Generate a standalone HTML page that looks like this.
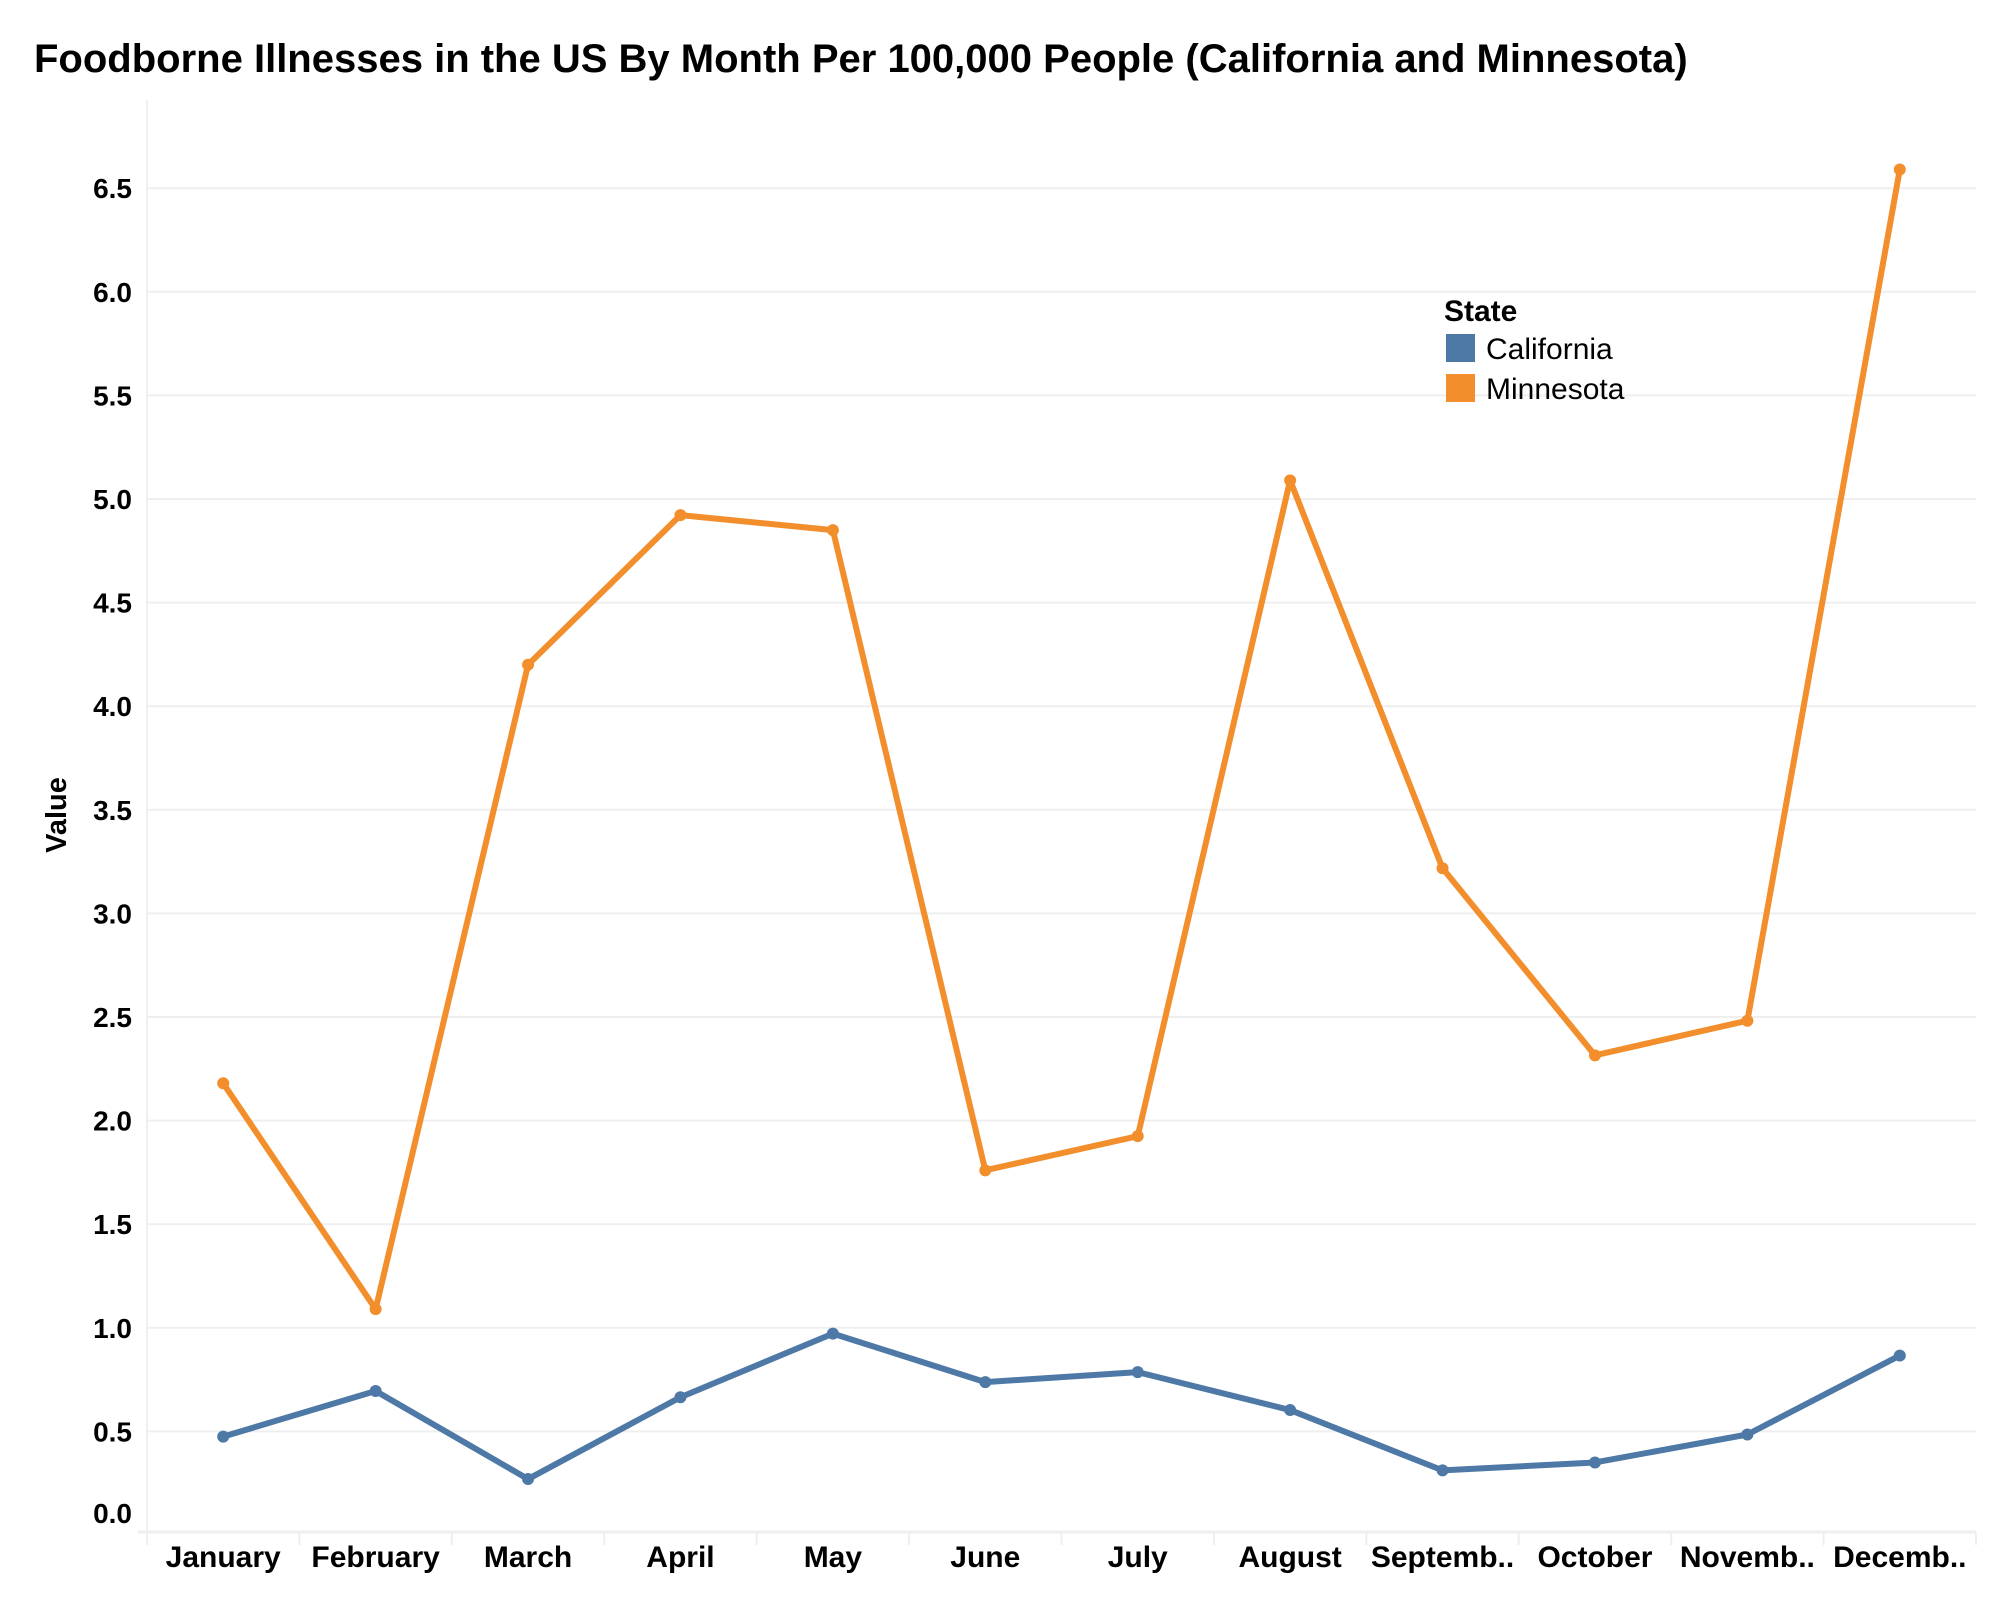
<!DOCTYPE html>
<html><head><meta charset="utf-8"><style>
html,body{margin:0;padding:0;background:#fff;}
svg{display:block;font-family:"Liberation Sans",Arial,sans-serif;}
</style></head><body>
<svg id="chart" width="2000" height="1600" viewBox="0 0 2000 1600">
<text x="34" y="72" font-size="40" font-weight="bold" fill="#000">Foodborne Illnesses in the US By Month Per 100,000 People (California and Minnesota)</text>
<g id="grid"></g>
<g id="axes"></g>
<g id="series"></g>
<text transform="translate(66,815) rotate(-90)" text-anchor="middle" font-size="29" font-weight="bold" fill="#000">Value</text>
<g>
<text x="1444" y="321" font-size="30" font-weight="bold" fill="#000">State</text>
<g><rect x="1446" y="334" width="29" height="28" fill="#4e79a7"/><text x="1486" y="359" font-size="30" fill="#000">California</text></g>
<g><rect x="1446" y="374" width="29" height="28" fill="#f28e2b"/><text x="1486" y="399" font-size="30" fill="#000">Minnesota</text></g>
</g>
</svg>
<script>
const months = ["January","February","March","April","May","June","July","August","Septemb..","October","Novemb..","Decemb.."];
const california = [0.475,0.695,0.27,0.665,0.972,0.738,0.786,0.603,0.312,0.35,0.485,0.866];
const minnesota = [2.18,1.09,4.2,4.922,4.85,1.76,1.925,5.09,3.218,2.315,2.482,6.59];
const yTicks = [0,0.5,1,1.5,2,2.5,3,3.5,4,4.5,5,5.5,6,6.5];
const yTickLabels = ["0.0","0.5","1.0","1.5","2.0","2.5","3.0","3.5","4.0","4.5","5.0","5.5","6.0","6.5"];

const NS = "http://www.w3.org/2000/svg";
const paneL = 147, paneR = 1976, colW = (paneR - paneL) / 12;
function x(i){ return paneL + colW * (i + 0.5); }
function y(v){ return 1535 - v * 207.2; }
function mk(tag, attrs, parent){ const e = document.createElementNS(NS, tag); for (const k in attrs) e.setAttribute(k, attrs[k]); parent.appendChild(e); return e; }

const grid = document.getElementById('grid');
const axes = document.getElementById('axes');
mk('line',{x1:paneL,y1:100,x2:paneL,y2:1531,stroke:'#f0f0f0','stroke-width':2},grid);
yTicks.forEach((t,i)=>{
  if (t > 0) {
    const g = mk('line',{x1:paneL,y1:y(t),x2:paneR,y2:y(t),stroke:'#efefef','stroke-width':2},grid);
    
    
  }
  const ty = t === 0 ? 1523 : y(t) + 10;
  const lb = mk('text',{x:132,y:ty,'text-anchor':'end','font-size':28,'font-weight':'bold',fill:'#000'},axes);
  lb.textContent = yTickLabels[i];
  
  
});
mk('line',{x1:138,y1:1532,x2:paneR,y2:1532,stroke:'#efefef','stroke-width':3},axes);
for (let i=0;i<=12;i++){
  mk('line',{x1:paneL+colW*i,y1:1533,x2:paneL+colW*i,y2:1545,stroke:'#efefef','stroke-width':2},axes);
}
months.forEach((m,i)=>{
  const t = mk('text',{x:x(i),y:1567,'text-anchor':'middle','font-size':30,'font-weight':'bold',fill:'#000'},axes);
  t.textContent = m;
  
  
});

const series = document.getElementById('series');
function drawSeries(vals, color, name){
  const g = mk('g',{},series);
  
  
  const pts = vals.map((v,i)=>x(i)+','+y(v)).join(' ');
  const pl = mk('polyline',{points:pts,fill:'none',stroke:color,'stroke-width':6,'stroke-linejoin':'round'},g);
  
  
  vals.forEach((v,i)=>{
    const c = mk('circle',{cx:x(i),cy:y(v),r:6,fill:color},g);
    
    
  });
}
drawSeries(minnesota,'#f28e2b','minnesota');
drawSeries(california,'#4e79a7','california');
</script>
</body></html>
